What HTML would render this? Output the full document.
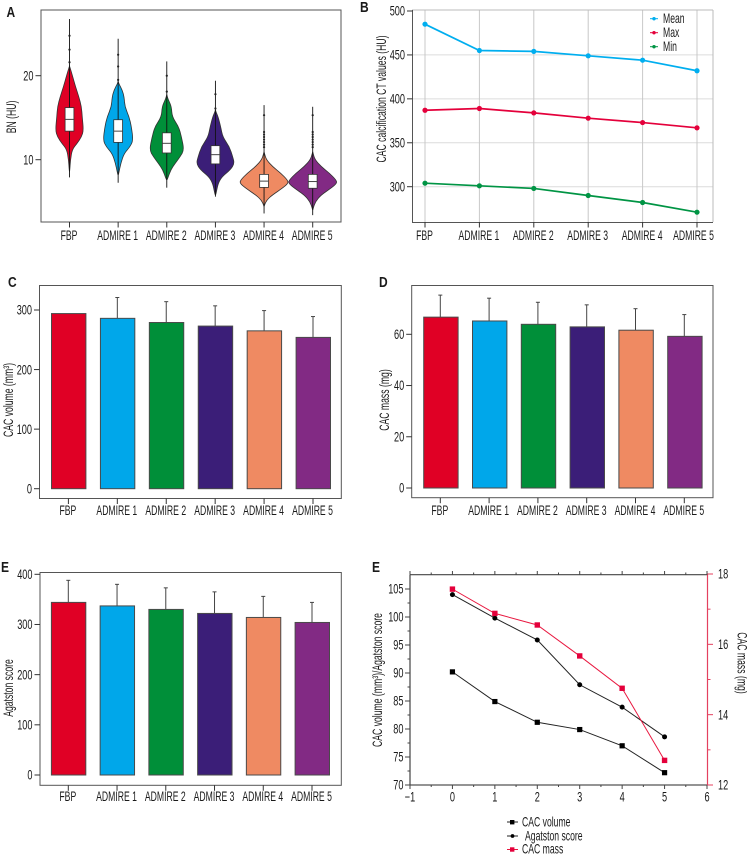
<!DOCTYPE html>
<html lang="en">
<head>
<meta charset="utf-8">
<title>CAC comparison charts</title>
<style>
html,body{margin:0;padding:0;background:#fff;width:747px;height:854px;overflow:hidden}
svg{display:block;filter:blur(0.3px)}
text{font-family:"Liberation Sans",sans-serif;fill:#1a1a1a}
</style>
</head>
<body>
<svg id="figure" xmlns="http://www.w3.org/2000/svg" width="747" height="854" viewBox="0 0 747 854"></svg>
<script>
const categories = ['FBP', 'ADMIRE 1', 'ADMIRE 2', 'ADMIRE 3', 'ADMIRE 4', 'ADMIRE 5'];
const seriesColors = ['#e00025', '#00a7ea', '#008f39', '#3b1e78', '#ef8a62', '#822a84'];

/* Panel A: violin plots */
const violinTicks = [10, 20];
const violinValues = [
  [20.9, 20.1, 18.7, 17.5, 16.3, 15.1, 13.5, 12.7, 11.9, 11.2, 10.0, 8.8],
  [19.1, 18.3, 17.5, 16.3, 15.1, 13.9, 12.3, 11.5, 10.75, 9.6, 8.4],
  [17.5, 17.1, 16.3, 15.1, 13.9, 12.7, 11.15, 10.35, 9.55, 8.8, 7.8],
  [15.7, 15.1, 13.9, 12.7, 11.55, 10.35, 9.55, 8.8, 8.0, 7.2, 6.0],
  [10.7, 10.0, 9.2, 8.4, 7.6, 7.2, 6.6, 5.8, 5.2, 4.6],
  [10.7, 10.0, 9.2, 8.4, 7.6, 7.2, 6.6, 5.8, 5.0, 4.2]
];
const violinDensity = [
  [0.7, 2.7, 6, 9.3, 12, 12.7, 14, 12, 7.3, 2.7, 1, 0.3],
  [0.5, 4, 6, 6.7, 11, 13.3, 15, 11.7, 6, 2.7, 0.7],
  [0.5, 1.7, 4.7, 5.3, 12, 14.7, 17.3, 13.3, 8.3, 4, 1],
  [0.5, 2.7, 5.3, 7.3, 14, 17.3, 19, 15, 6.7, 2.7, 0.7],
  [0.5, 2.3, 8.3, 16.7, 23.3, 24.3, 18.3, 8.3, 2.7, 0.4],
  [0.5, 2.3, 8.3, 16.7, 23.3, 24.3, 18.3, 8.3, 2.7, 0.4]
];
const boxQ1 = [13.4, 12.06, 10.8, 9.5, 6.7, 6.6];
const boxMedian = [14.8, 13.4, 11.95, 10.6, 7.45, 7.4];
const boxQ3 = [16.2, 14.76, 13.2, 11.67, 8.25, 8.25];
const whiskerLow = [7.9, 7.26, 6.67, 5.6, 3.6, 3.4];
const whiskerHigh = [26.75, 24.4, 21.7, 19.4, 16.5, 16.3];
const outliers = [
  [24.76, 23.1, 21.6],
  [22.5, 21.1, 19.5],
  [20, 18.1],
  [17.8, 16.1],
  [15.3, 13.3, 13, 12.7, 12.4, 12.1, 11.8, 11.5],
  [15.3, 13.3, 13, 12.7, 12.4, 12.1, 11.8, 11.5]
];

/* Panel B: CT values */
const ctTicks = [300, 350, 400, 450, 500];
const ctMean = [485, 455, 454, 449, 444, 432];
const ctMax = [387, 389, 384, 378, 373, 367];
const ctMin = [304, 301, 298, 290, 282, 271];

/* Panel C: CAC volume */
const volumeTicks = [0, 100, 200, 300];
const volumeMeans = [294, 286, 279, 273, 265, 254];
const volumeErrors = [294, 321, 314, 307, 299, 289];

/* Panel D: CAC mass */
const massTicks = [0, 20, 40, 60];
const massMeans = [66.7, 65.2, 63.9, 62.9, 61.6, 59.2];
const massErrors = [75.3, 74.1, 72.5, 71.5, 70, 67.7];

/* Panel E: Agatston */
const agatstonTicks = [0, 100, 200, 300, 400];
const agatstonMeans = [344, 337, 330, 322, 314, 304];
const agatstonErrors = [388, 380, 373, 365, 356, 344];

/* Panel F: percent lines */
const lineX = [0, 1, 2, 3, 4, 5];
const lineXTicks = [-1, 0, 1, 2, 3, 4, 5, 6];
const lineLeftTicks = [70, 75, 80, 85, 90, 95, 100, 105];
const lineRightTicks = [12, 14, 16, 18];
const lineVolume = [90.2, 84.9, 81.2, 79.9, 77, 72.2];
const lineAgatston = [104, 99.8, 95.9, 87.9, 83.9, 78.6];
const lineMass = [17.57, 16.88, 16.55, 15.67, 14.75, 12.7];

const svg = document.getElementById('figure');
const NS = 'http://www.w3.org/2000/svg';

function mk(parent, tag, props, name) {
  const el = document.createElementNS(NS, tag);
  for (const k in props) el.setAttribute(k, props[k]);
  
  
  parent.appendChild(el);
  return el;
}
function group(parent, name) { return mk(parent, 'g', {}, name); }
function line(p, x1, y1, x2, y2, color, w, name) {
  return mk(p, 'line', {x1, y1, x2, y2, stroke: color, 'stroke-width': w}, name);
}
function label(p, str, x, y, anchor, name, opts) {
  opts = opts || {};
  const size = opts.size || 13.5;
  const sx = opts.sx || 0.64;
  const rot = opts.rot || 0;
  const t = mk(p, 'text', {
    transform: 'translate(' + x + ' ' + y + ') rotate(' + rot + ') scale(' + sx + ' 1)',
    'text-anchor': anchor,
    'font-size': size,
    'font-weight': opts.bold ? 'bold' : 'normal'
  }, name);
  t.textContent = str;
  return t;
}
function linear(d0, p0, d1, p1) {
  return function (v) { return p0 + (v - d0) * (p1 - p0) / (d1 - d0); };
}
function slug(s) { return s.toLowerCase().replace(/\s+/g, '-'); }

const NUM = {sx: 0.68};

function categoryAxis(p, xs, bottom, labelY, lastShift) {
  categories.forEach(function (c, i) {
    line(p, xs(i), bottom, xs(i), bottom + 5.5, '#333', 1, 'x-tick-' + slug(c));
    label(p, c, xs(i) - 0.5 + (i === 5 ? (lastShift || 0) : 0), labelY, 'middle', 'x-label-' + slug(c));
  });
}
function yTicks(p, ticks, ys, axisX) {
  ticks.forEach(function (t) {
    line(p, axisX - 5.5, ys(t), axisX, ys(t), '#333', 1, 'y-tick-' + t);
    label(p, String(t), axisX - 7.5, ys(t) + 4.7, 'end', 'y-label-' + t, NUM);
  });
}
function frame(p, x, y, w, h, color) {
  mk(p, 'rect', {x, y, width: w, height: h, fill: 'none', stroke: color || '#555', 'stroke-width': 1}, 'plot-frame');
}

/* ---------- Panel A ---------- */
(function () {
  const g = group(svg, 'violin-panel');
  const ys = linear(10, 159.7, 20, 75.7);
  const xs = linear(0, 69.5, 5, 312.7);
  frame(g, 41, 10, 300, 212);
  categories.forEach(function (c, i) {
    const v = group(g, 'violin-' + slug(c));
    const vals = violinValues[i], den = violinDensity[i];
    const cx = xs(i);
    const pts = [[cx, ys(vals[0] + 0.25)]];
    vals.forEach(function (val, j) { pts.push([cx + den[j], ys(val)]); });
    pts.push([cx, ys(vals[vals.length - 1] - 0.25)]);
    for (let j = vals.length - 1; j >= 0; j--) pts.push([cx - den[j], ys(vals[j])]);
    let d = 'M' + pts[0][0] + ' ' + pts[0][1];
    for (let j = 1; j < pts.length; j++) {
      const a = pts[j], b = pts[(j + 1) % pts.length];
      d += ' Q' + a[0].toFixed(2) + ' ' + a[1].toFixed(2) + ' ' + ((a[0] + b[0]) / 2).toFixed(2) + ' ' + ((a[1] + b[1]) / 2).toFixed(2);
    }
    mk(v, 'path', {d: d + 'Z', fill: seriesColors[i], stroke: '#333', 'stroke-width': 0.8}, 'violin-body');
    line(v, cx, ys(whiskerHigh[i]), cx, ys(whiskerLow[i]), '#111', 0.9, 'whisker');
    outliers[i].forEach(function (o) {
      mk(v, 'circle', {cx: cx, cy: ys(o), r: 1.1, fill: '#222'}, 'outlier');
    });
    mk(v, 'rect', {x: cx - 4.4, y: ys(boxQ3[i]), width: 8.8, height: ys(boxQ1[i]) - ys(boxQ3[i]), fill: '#fff', stroke: '#333', 'stroke-width': 0.8}, 'box');
    line(v, cx - 4.4, ys(boxMedian[i]), cx + 4.4, ys(boxMedian[i]), '#444', 1, 'median');
  });
  categoryAxis(g, xs, 222, 240);
  yTicks(g, violinTicks, ys, 41);
  label(g, 'BN (HU)', 16, 117, 'middle', 'y-axis-title', {rot: -90});
  label(g, 'A', 6.5, 17, 'start', 'panel-label-a', {size: 15, bold: true, sx: 0.8});
})();

/* ---------- Panel B ---------- */
(function () {
  const g = group(svg, 'ct-values-panel');
  const ys = linear(300, 186.7, 500, 11);
  const xs = linear(0, 425, 5, 697);
  ctTicks.forEach(function (t) {
    if (t < 500) line(g, 412, ys(t), 713, ys(t), '#dcdcdc', 1, 'grid-h-' + t);
  });
  categories.forEach(function (c, i) {
    line(g, xs(i), 10, xs(i), 222, '#c8c8c8', 1, 'grid-v-' + slug(c));
  });
  line(g, 412, 10, 713, 10, '#bbb', 1, 'top-border');
  line(g, 713, 10, 713, 222, '#bbb', 1, 'right-border');
  line(g, 412.5, 10, 412.5, 222.5, '#555', 1, 'y-axis');
  line(g, 412, 222.5, 713, 222.5, '#555', 1, 'x-axis');
  const series = [
    ['mean', ctMean, '#00aeef'],
    ['max', ctMax, '#e4003b'],
    ['min', ctMin, '#009444']
  ];
  series.forEach(function (s) {
    const sg = group(g, 'series-' + s[0]);
    mk(sg, 'polyline', {
      points: s[1].map(function (v, i) { return xs(i) + ',' + ys(v); }).join(' '),
      fill: 'none', stroke: s[2], 'stroke-width': 1.7
    }, 'line-' + s[0]);
    s[1].forEach(function (v, i) {
      mk(sg, 'circle', {cx: xs(i), cy: ys(v), r: 2.6, fill: s[2]}, 'point-' + s[0]);
    });
  });
  categoryAxis(g, xs, 222, 240, -3);
  yTicks(g, ctTicks, ys, 412.5);
  label(g, 'CAC calcification CT values (HU)', 386, 99, 'middle', 'y-axis-title', {rot: -90});
  const legendNames = ['Mean', 'Max', 'Min'];
  legendNames.forEach(function (n, i) {
    const y = 18.7 + i * 14;
    const lg = group(g, 'legend-entry-' + n.toLowerCase());
    line(lg, 650, y, 658, y, series[i][2], 1, 'legend-line');
    mk(lg, 'circle', {cx: 654, cy: y, r: 1.7, fill: series[i][2]}, 'legend-marker');
    label(lg, n, 663, y + 4.5, 'start', 'legend-label');
  });
  label(g, 'B', 360, 12, 'start', 'panel-label-b', {size: 15, bold: true, sx: 0.8});
})();

/* ---------- Bar panels ---------- */
function barPanel(cfg) {
  const g = group(svg, cfg.name);
  const ys = linear(cfg.ticks[0], cfg.y0, cfg.tickRef, cfg.yRef);
  const xs = linear(0, cfg.x0, 5, cfg.x5);
  frame(g, cfg.left, cfg.top, cfg.right - cfg.left, cfg.bottom - cfg.top);
  categories.forEach(function (c, i) {
    const b = group(g, 'bar-group-' + slug(c));
    const cx = xs(i) + cfg.barOffset;
    line(b, cx - cfg.barOffset, ys(cfg.errors[i]), cx - cfg.barOffset, ys(cfg.means[i]), '#444', 1, 'error-bar');
    if (cfg.errors[i] > cfg.means[i]) {
      line(b, cx - cfg.barOffset - 2, ys(cfg.errors[i]), cx - cfg.barOffset + 2, ys(cfg.errors[i]), '#444', 1, 'error-cap');
    }
    mk(b, 'rect', {
      x: cx - 17.2, y: ys(cfg.means[i]), width: 34.4, height: cfg.y0 - ys(cfg.means[i]),
      fill: seriesColors[i], stroke: '#4a4a4a', 'stroke-width': 1
    }, 'bar-' + slug(c));
  });
  categoryAxis(g, xs, cfg.bottom, cfg.labelY);
  yTicks(g, cfg.ticks, ys, cfg.left);
  label(g, cfg.title, cfg.titleX, cfg.titleY, 'middle', 'y-axis-title', {rot: -90});
  label(g, cfg.panel, cfg.panelX, cfg.panelY, 'start', 'panel-label-' + cfg.panel.toLowerCase(), {size: 15, bold: true, sx: 0.8});
}
barPanel({
  name: 'cac-volume-panel', ticks: volumeTicks, means: volumeMeans, errors: volumeErrors,
  y0: 488.7, tickRef: 300, yRef: 310, x0: 68.4, x5: 313, barOffset: 0.3,
  left: 39.5, right: 341.3, top: 285.5, bottom: 498.5, labelY: 515,
  title: 'CAC volume (mm³)', titleX: 13, titleY: 400, panel: 'C', panelX: 8, panelY: 287
});
barPanel({
  name: 'cac-mass-panel', ticks: massTicks, means: massMeans, errors: massErrors,
  y0: 488, tickRef: 60, yRef: 334.3, x0: 440.3, x5: 684.3, barOffset: 0.6,
  left: 411.7, right: 713, top: 285.5, bottom: 497.7, labelY: 515,
  title: 'CAC mass (mg)', titleX: 389, titleY: 400, panel: 'D', panelX: 379, panelY: 287
});
barPanel({
  name: 'agatston-panel', ticks: agatstonTicks, means: agatstonMeans, errors: agatstonErrors,
  y0: 775, tickRef: 400, yRef: 574.3, x0: 68.3, x5: 312, barOffset: 0.3,
  left: 40, right: 341.3, top: 572.5, bottom: 785.3, labelY: 801,
  title: 'Agatston score', titleX: 13, titleY: 688, panel: 'E', panelX: 1, panelY: 572
});

/* ---------- Panel F ---------- */
(function () {
  const g = group(svg, 'line-chart-panel');
  const xs = linear(-1, 410, 6, 707);
  const yl = linear(70, 785, 105, 589);
  const yr = linear(12, 785, 18, 574);
  line(g, 410, 574.7, 707.5, 574.7, '#444', 1.2, 'top-axis');
  line(g, 410, 785, 707.5, 785, '#555', 1.2, 'x-axis');
  line(g, 410, 574.7, 410, 785, '#444', 1.2, 'y-axis-left');
  line(g, 707.5, 574, 707.5, 785, '#e4405f', 1.2, 'y-axis-right');

  lineXTicks.forEach(function (t, i) {
    line(g, xs(t), 785, xs(t), 789, '#444', 1, 'x-tick-' + t);
    line(g, xs(t), 571, xs(t), 574.7, '#444', 1, 'top-tick-' + t);
    label(g, t < 0 ? '−' + Math.abs(t) : String(t), xs(t), 801.7, 'middle', 'x-label-' + t, NUM);
    if (i < lineXTicks.length - 1) {
      const mid = (t + lineXTicks[i + 1]) / 2;
      line(g, xs(mid), 785, xs(mid), 787, '#444', 1, 'x-minor-tick');
      line(g, xs(mid), 572.5, xs(mid), 574.7, '#444', 1, 'top-minor-tick');
    }
  });
  lineLeftTicks.forEach(function (t, i) {
    line(g, 405, yl(t), 410, yl(t), '#444', 1, 'left-tick-' + t);
    label(g, String(t), 403.5, yl(t) + 4.7, 'end', 'left-label-' + t, NUM);
    if (i < lineLeftTicks.length - 1) {
      line(g, 407.5, yl(t + 2.5), 410, yl(t + 2.5), '#444', 1, 'left-minor-tick');
    }
  });
  lineRightTicks.forEach(function (t, i) {
    line(g, 707.5, yr(t), 713, yr(t), '#e4405f', 1, 'right-tick-' + t);
    label(g, String(t), 718, yr(t) + 4.7, 'start', 'right-label-' + t, NUM);
    if (i < lineRightTicks.length - 1) {
      line(g, 707.5, yr(t + 1), 710.5, yr(t + 1), '#e4405f', 1, 'right-minor-tick');
    }
  });

  const vol = group(g, 'series-cac-volume');
  mk(vol, 'polyline', {points: lineX.map(function (x, i) { return xs(x) + ',' + yl(lineVolume[i]); }).join(' '), fill: 'none', stroke: '#222', 'stroke-width': 1}, 'line-cac-volume');
  lineX.forEach(function (x, i) {
    mk(vol, 'rect', {x: xs(x) - 2.6, y: yl(lineVolume[i]) - 2.6, width: 5.2, height: 5.2, fill: '#000'}, 'point-cac-volume');
  });
  const aga = group(g, 'series-agatston');
  mk(aga, 'polyline', {points: lineX.map(function (x, i) { return xs(x) + ',' + yl(lineAgatston[i]); }).join(' '), fill: 'none', stroke: '#222', 'stroke-width': 1}, 'line-agatston');
  lineX.forEach(function (x, i) {
    mk(aga, 'circle', {cx: xs(x), cy: yl(lineAgatston[i]), r: 2.5, fill: '#000'}, 'point-agatston');
  });
  const mas = group(g, 'series-cac-mass');
  mk(mas, 'polyline', {points: lineX.map(function (x, i) { return xs(x) + ',' + yr(lineMass[i]); }).join(' '), fill: 'none', stroke: '#e8173f', 'stroke-width': 1}, 'line-cac-mass');
  lineX.forEach(function (x, i) {
    mk(mas, 'rect', {x: xs(x) - 2.7, y: yr(lineMass[i]) - 2.7, width: 5.4, height: 5.4, fill: '#e4003b'}, 'point-cac-mass');
  });

  label(g, 'CAC volume (mm³)/Agatston score', 382, 680, 'middle', 'y-axis-title-left', {rot: -90});
  label(g, 'CAC mass (mg)', 737.5, 663, 'middle', 'y-axis-title-right', {rot: 90});

  const lg1 = group(g, 'legend-entry-cac-volume');
  line(lg1, 507, 822, 518, 822, '#222', 1, 'legend-line');
  mk(lg1, 'rect', {x: 510, y: 820, width: 4.4, height: 4.4, fill: '#000'}, 'legend-marker');
  label(lg1, 'CAC volume', 522, 826.5, 'start', 'legend-label');
  const lg2 = group(g, 'legend-entry-agatston');
  line(lg2, 507, 836, 518, 836, '#222', 1, 'legend-line');
  mk(lg2, 'circle', {cx: 512.5, cy: 836, r: 1.9, fill: '#000'}, 'legend-marker');
  label(lg2, 'Agatston score', 525, 840.5, 'start', 'legend-label');
  const lg3 = group(g, 'legend-entry-cac-mass');
  line(lg3, 507, 849.5, 518, 849.5, '#e8173f', 1, 'legend-line');
  mk(lg3, 'rect', {x: 510, y: 847.3, width: 4.4, height: 4.4, fill: '#e4003b'}, 'legend-marker');
  label(lg3, 'CAC mass', 522, 853.5, 'start', 'legend-label');

  label(g, 'E', 372, 572, 'start', 'panel-label-e-right', {size: 15, bold: true, sx: 0.8});
})();
</script>
</body>
</html>
